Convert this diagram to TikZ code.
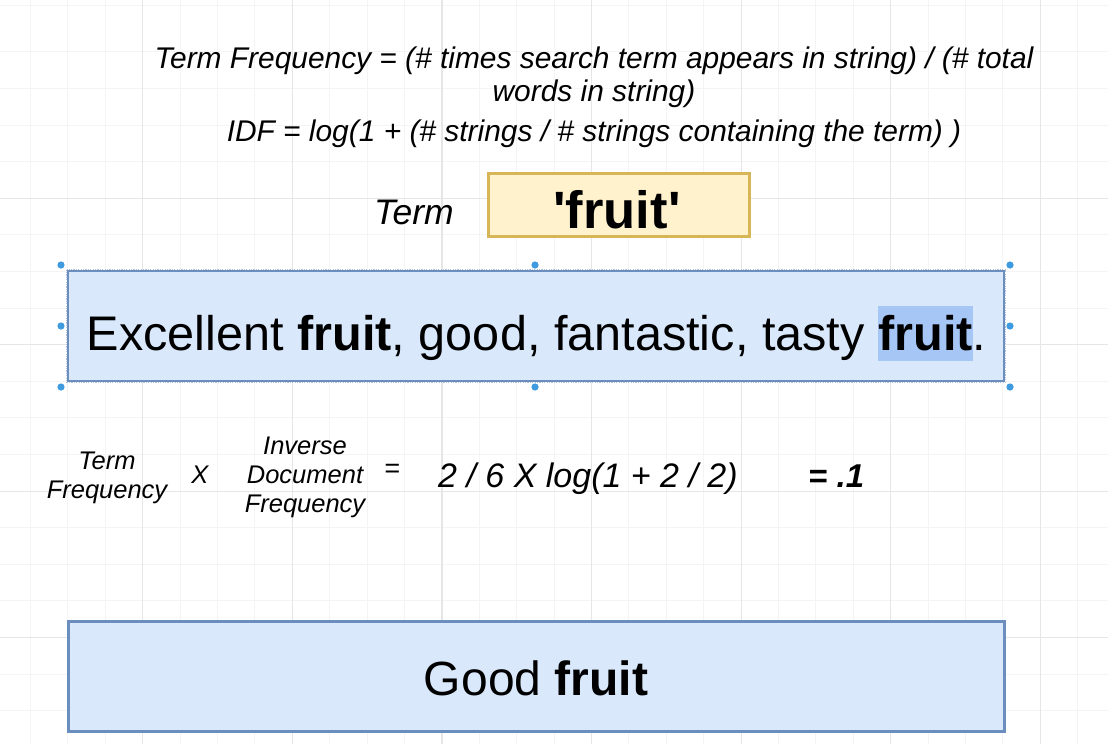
\documentclass[tikz,border=0pt]{standalone}
\usepackage{fontspec}
\newfontfamily\lsans{Liberation Sans}
\definecolor{gridminor}{HTML}{F4F4F4}
\definecolor{gridmajor}{HTML}{E6E6E6}
\definecolor{bluefill}{HTML}{DAE8FC}
\definecolor{blueline}{HTML}{6C8EBF}
\definecolor{yelfill}{HTML}{FFF2CC}
\definecolor{yelline}{HTML}{D6B656}
\definecolor{hlblue}{HTML}{A6C6F6}
\definecolor{handle}{HTML}{3F9BE0}
\newcommand\hlword[1]{\setbox0\hbox{\bfseries #1}\rlap{\color{hlblue}\vrule width\wd0 height 44pt depth 11pt}\box0}
\tikzset{
  minorline/.style={gridminor, line width=1pt},
  majorline/.style={gridmajor, line width=1.2pt},
  txt/.style={inner sep=0pt, font=\lsans},
  toptext/.style={txt, align=center, font=\lsans\itshape\fontsize{29.9}{33}\selectfont},
  smalllbl/.style={txt, align=center, font=\lsans\itshape\fontsize{25.5}{29}\selectfont},
  bluebox/.style={draw=blueline, fill=bluefill, line width=2.8pt, inner sep=0pt},
  yellowbox/.style={draw=yelline, fill=yelfill, line width=3pt, inner sep=0pt},
  handledot/.style={fill=handle},
}
\begin{document}
\begin{tikzpicture}[x=1pt,y=-1pt]
\fill[white] (0,0) rectangle (1108,744);
\useasboundingbox (0,0) rectangle (1108,744);
% grid
\foreach \i in {-3,...,25} \draw[minorline] ({142.7+37.4*\i},0) -- ({142.7+37.4*\i},744);
\foreach \j in {-4,...,14} \draw[minorline] (0,{198.3+36.6*\j}) -- (1108,{198.3+36.6*\j});
\draw[minorline] (0,5) -- (1108,5);
\foreach \i in {0,...,6} \draw[majorline] ({142.7+149.6*\i},0) -- ({142.7+149.6*\i},744);
\foreach \j in {0,...,3} \draw[majorline] (0,{198.3+146.4*\j}) -- (1108,{198.3+146.4*\j});
% top formulas (anchor base = last line's baseline)
\node[toptext, anchor=base] (tf) at (594,101) {Term Frequency = (\# times search term appears in string) / (\# total\\words in string)};
\node[toptext, anchor=base] (idf) at (594,141) {IDF = log(1 + (\# strings / \# strings containing the term) )};
% term
\node[txt, font=\lsans\itshape\fontsize{35.5}{40}\selectfont, anchor=base] (termlbl) at (414,224) {Term};
\node[yellowbox, minimum width=261pt, minimum height=63pt] (termbox) at (618.5,204.5) {};
\node[txt, font=\lsans\bfseries\fontsize{52.5}{60}\selectfont, anchor=base] (termtxt) at (617,228) {'fruit'};
% selected sentence box
\node[bluebox, minimum width=936pt, minimum height=110pt] (sentbox) at (536,326) {};
\draw[blueline!55!white, line width=0.8pt, dash pattern=on 1.2pt off 1.2pt] (sentbox.north west) rectangle (sentbox.south east);
\node[txt, font=\lsans\fontsize{48.6}{58}\selectfont, anchor=base] (senttxt) at (536.5,350) {Excellent \textbf{fruit}, good, fantastic, tasty \hlword{fruit}.};
\foreach \p in {(61,265),(535,265),(1010,265),(61,326),(1010,326),(61,387),(535,387),(1010,387)}
  \fill[handledot] \p circle (3.6);
% formula row
\node[smalllbl, anchor=base] (tflbl) at (107,498) {Term\\Frequency};
\node[smalllbl, anchor=base] (times) at (200,483) {X};
\node[smalllbl, anchor=base] (idflbl) at (305,512) {Inverse\\Document\\Frequency};
\node[smalllbl, font=\lsans\itshape\fontsize{27}{29}\selectfont, anchor=base] (eq) at (392,477) {=};
\node[txt, font=\lsans\itshape\fontsize{34}{40}\selectfont, anchor=base west] (calc) at (438,487) {2 / 6 X log(1 + 2 / 2)};
\node[txt, font=\lsans\bfseries\itshape\fontsize{33}{40}\selectfont, anchor=base west] (res) at (808,487) {= .1};
% bottom box
\node[bluebox, line width=3pt, minimum width=936pt, minimum height=110pt] (goodbox) at (536,676) {};
\node[txt, font=\lsans\fontsize{48}{58}\selectfont, anchor=base] (goodtxt) at (536,695) {Good \textbf{fruit}};
\end{tikzpicture}
\end{document}
